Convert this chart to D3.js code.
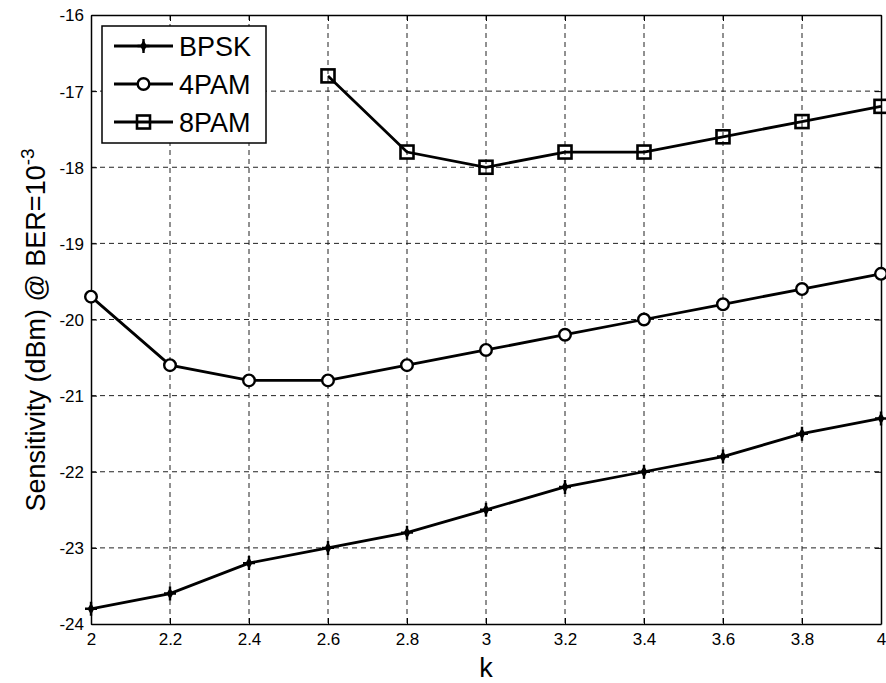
<!DOCTYPE html>
<html>
<head>
<meta charset="utf-8">
<script src="https://cdn.jsdelivr.net/npm/d3@7"></script>
<style>
  body { margin: 0; background: #fff; }
  svg { font-family: "Liberation Sans", Arial, sans-serif; }
</style>
</head>
<body>
<svg id="mainFrame"></svg>
<script>
const kValues = [2, 2.2, 2.4, 2.6, 2.8, 3, 3.2, 3.4, 3.6, 3.8, 4];
const bpsk = [-23.8, -23.6, -23.2, -23.0, -22.8, -22.5, -22.2, -22.0, -21.8, -21.5, -21.3];
const pam4 = [-19.7, -20.6, -20.8, -20.8, -20.6, -20.4, -20.2, -20.0, -19.8, -19.6, -19.4];
const pam8k = [2.6, 2.8, 3, 3.2, 3.4, 3.6, 3.8, 4];
const pam8 = [-16.8, -17.8, -18.0, -17.8, -17.8, -17.6, -17.4, -17.2];
const xTicks = [2, 2.2, 2.4, 2.6, 2.8, 3, 3.2, 3.4, 3.6, 3.8, 4];
const yTicks = [-24, -23, -22, -21, -20, -19, -18, -17, -16];
const seriesNames = ["BPSK", "4PAM", "8PAM"];

const width = 886, height = 683;
const margin = { left: 91, right: 5, top: 15, bottom: 59 };

const svg = d3.select("#mainFrame")
    .attr("width", width)
    .attr("height", height);

const x = d3.scaleLinear().domain([2, 4]).range([margin.left, width - margin.right]);
const y = d3.scaleLinear().domain([-24, -16]).range([height - margin.bottom, margin.top]);

// grid
svg.append("g").selectAll("line")
    .data(xTicks.slice(1, -1))
    .join("line")
    .attr("x1", d => x(d)).attr("x2", d => x(d))
    .attr("y1", y(-16)).attr("y2", y(-24))
    .attr("stroke", "#222").attr("stroke-width", 1)
    .attr("stroke-dasharray", "5,4");
svg.append("g").selectAll("line")
    .data(yTicks.slice(1, -1))
    .join("line")
    .attr("y1", d => y(d)).attr("y2", d => y(d))
    .attr("x1", x(2)).attr("x2", x(4))
    .attr("stroke", "#222").attr("stroke-width", 1)
    .attr("stroke-dasharray", "5,4");

// axes, ticks on all four sides pointing inward
const xAxis = svg.append("g")
    .attr("transform", `translate(0,${y(-24)})`)
    .call(d3.axisBottom(x).tickValues(xTicks).tickSizeInner(-6).tickSizeOuter(0).tickPadding(9).tickFormat(d3.format("")));
const xTop = svg.append("g")
    .attr("transform", `translate(0,${y(-16)})`)
    .call(d3.axisTop(x).tickValues(xTicks).tickSizeInner(-6).tickSizeOuter(0).tickFormat(""));
const yAxis = svg.append("g")
    .attr("transform", `translate(${x(2)},0)`)
    .call(d3.axisLeft(y).tickValues(yTicks).tickSizeInner(-6).tickSizeOuter(0).tickPadding(7).tickFormat(d => d));
const yRight = svg.append("g")
    .attr("transform", `translate(${x(4)},0)`)
    .call(d3.axisRight(y).tickValues(yTicks).tickSizeInner(-6).tickSizeOuter(0).tickFormat(""));

[xAxis, xTop, yAxis, yRight].forEach(g => {
    g.attr("font-size", null).attr("font-family", null);
    g.select(".domain").attr("stroke", "#000").attr("stroke-width", 1.5);
    g.selectAll(".tick line").attr("stroke", "#000");
    g.selectAll(".tick text")
        .attr("fill", "#000")
        .style("font-size", "17px");
});
yAxis.selectAll(".tick text").attr("dy", "0.35em");

// axis labels
svg.append("text")
    .attr("x", x(3))
    .attr("y", 677)
    .attr("text-anchor", "middle")
    .style("font-size", "27px")
    .text("k");

const yl = svg.append("text")
    .attr("transform", `translate(45,330) rotate(-90)`)
    .attr("text-anchor", "middle")
    .style("font-size", "27px");
yl.append("tspan").text("Sensitivity (dBm)  @ BER=10");
yl.append("tspan").attr("dy", -11).style("font-size", "19px").text("-3");

// lines
const line = d3.line().x(d => x(d[0])).y(d => y(d[1]));
const data = [
    d3.zip(kValues, bpsk),
    d3.zip(kValues, pam4),
    d3.zip(pam8k, pam8)
];

data.forEach(pts => {
    svg.append("path")
        .datum(pts)
        .attr("d", line)
        .attr("fill", "none")
        .attr("stroke", "#000")
        .attr("stroke-width", 2.8);
});

function marker(g, type, cx, cy) {
    if (type === 0) {
        g.append("path")
            .attr("d", d3.symbol(d3.symbolDiamond, 40)())
            .attr("transform", `translate(${cx},${cy})`)
            .attr("fill", "#000");
        g.append("path")
            .attr("d", `M${cx},${cy - 7}V${cy + 7}M${cx - 6},${cy}H${cx + 6}`)
            .attr("stroke", "#000").attr("stroke-width", 2.4);
    } else if (type === 1) {
        g.append("circle")
            .attr("cx", cx).attr("cy", cy).attr("r", 5.8)
            .attr("fill", "#fff").attr("stroke", "#000").attr("stroke-width", 2.4);
    } else {
        g.append("rect")
            .attr("x", cx - 6.5).attr("y", cy - 6.5).attr("width", 13).attr("height", 13)
            .attr("fill", "none").attr("stroke", "#000").attr("stroke-width", 2.6);
    }
}

const mg = svg.append("g");
data.forEach((pts, i) => {
    pts.forEach(p => marker(mg, i, x(p[0]), y(p[1])));
});

// legend
const legend = svg.append("g");
legend.append("rect")
    .attr("x", 102).attr("y", 26).attr("width", 164).attr("height", 117)
    .attr("fill", "#fff").attr("stroke", "#000").attr("stroke-width", 1.5);
seriesNames.forEach((name, i) => {
    const ly = 46 + i * 38;
    legend.append("line")
        .attr("x1", 114).attr("x2", 173).attr("y1", ly).attr("y2", ly)
        .attr("stroke", "#000").attr("stroke-width", 2.8);
    marker(legend, i, 143.5, ly);
    legend.append("text")
        .attr("x", 179).attr("y", ly)
        .attr("dy", "0.36em")
        .style("font-size", "27px")
        .text(name);
});
</script>
</body>
</html>
